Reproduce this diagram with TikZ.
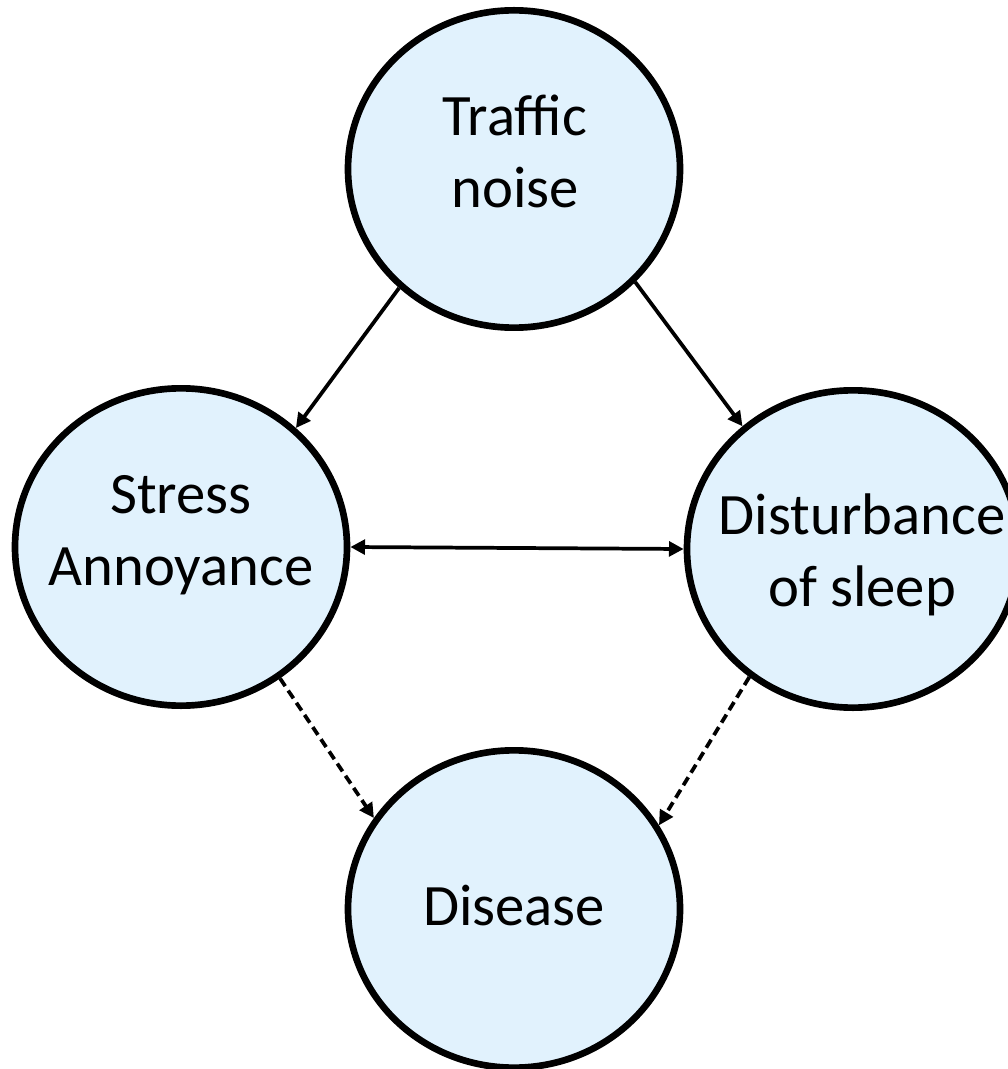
\documentclass[tikz,border=0pt]{standalone}
\usepackage{fontspec}
\setmainfont{Carlito}
\usetikzlibrary{shapes.geometric,arrows.meta}
\definecolor{bubble}{RGB}{225,242,253}
\begin{document}
\begin{tikzpicture}[x=0.75pt,y=-0.75pt,
  bubble/.style={ellipse,draw=black,line width=5pt,fill=bubble,minimum width=249pt,minimum height=238pt,inner sep=0pt},
  lbl/.style={align=center,inner sep=0pt,font=\fontsize{44}{54}\selectfont},
  conn/.style={line width=2.8pt,-{Triangle[length=11pt,width=11pt]}},
  bicon/.style={line width=2.8pt,{Triangle[length=11pt,width=11pt]}-{Triangle[length=11pt,width=11pt]}},
  dconn/.style={conn,dash pattern=on 7pt off 4pt}]
\useasboundingbox (0,0) rectangle (1007,1069);
\node[bubble] (traffic) at (514,169) {};
\node[bubble] (stress) at (181,547) {};
\node[bubble] (sleep) at (853,549) {};
\node[bubble] (disease) at (514,909) {};
\node[lbl] (ttraffic) at (515,151) {Traffic\\noise};
\node[lbl] (tstress) at (181,535) {Stress\\Annoyance};
\node[lbl] (tsleep) at (862,555) {Disturbance\\of sleep};
\node[lbl] (tdisease) at (514,906) {Disease};
\draw[conn] (traffic.226) -- (stress.46);
\draw[conn] (traffic.317) -- (sleep.132);
\draw[bicon] (stress.0) -- (sleep.180);
\draw[dconn] (stress.307) -- (disease.147);
\draw[dconn] (sleep.231) -- (disease.30);
\end{tikzpicture}
\end{document}
